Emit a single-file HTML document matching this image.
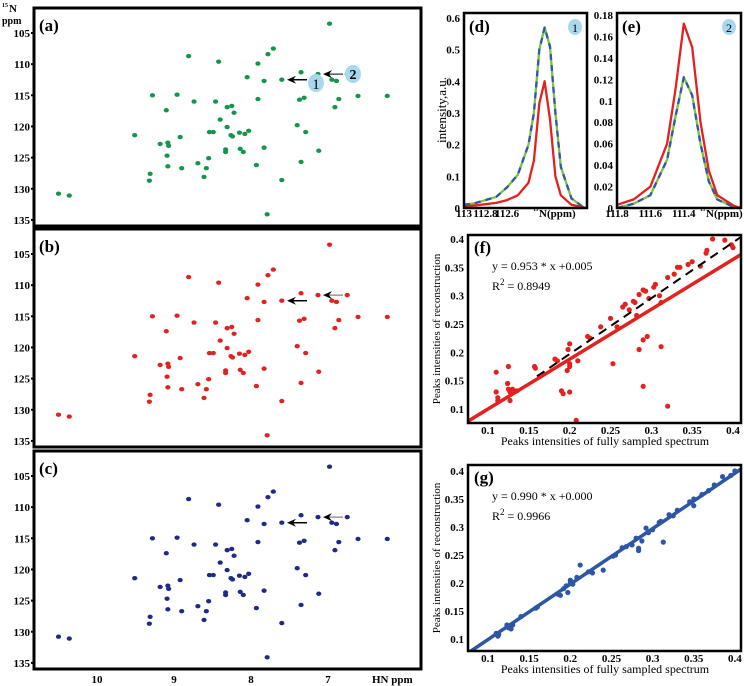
<!DOCTYPE html>
<html><head><meta charset="utf-8">
<style>
html,body{margin:0;padding:0;background:#fff;}
svg{display:block;font-family:"Liberation Serif",serif;}
.tk{font-weight:bold;font-size:11px;}
.pl{font-weight:bold;font-size:17px;}
</style></head>
<body>
<svg id="fig" width="744" height="686" viewBox="0 0 744 686" xmlns="http://www.w3.org/2000/svg"></svg>
<script>
// ---- data: peaks of 2D HSQC spectrum (HN ppm, 15N ppm) ----
const peakHN = [6.98,7.71,7.78,8.81,8.42,7.91,7.35,7.13,6.75,8.05,7.83,7.60,6.95,6.89,9.28,8.96,6.61,6.23,8.74,8.46,7.91,7.37,7.31,6.86,6.91,9.10,8.31,8.25,8.22,8.40,8.31,7.40,9.51,8.54,8.49,8.15,8.08,8.03,8.26,8.24,8.92,7.29,9.18,9.08,9.07,8.33,8.33,8.14,8.10,7.83,7.12,9.09,8.55,9.08,8.69,7.93,7.35,8.90,8.58,9.31,8.61,9.32,7.60,10.50,10.36,7.79];
const peakN  = [103.5,107.5,108.4,108.7,109.6,109.9,111.3,111.6,111.6,112.1,112.7,112.5,112.5,112.7,115.0,114.9,115.1,115.1,116.0,116.0,115.6,115.7,115.4,115.6,116.9,117.4,116.9,116.7,117.8,118.9,120.1,119.8,121.4,120.9,120.9,121.0,121.2,120.7,121.4,121.6,121.7,120.9,122.8,122.6,123.1,123.7,124.1,123.6,124.1,123.4,123.9,124.7,125.1,126.4,125.9,126.2,125.7,126.7,126.7,127.6,128.1,128.7,128.6,130.8,131.1,134.1];
const nTicks = [105,110,115,120,125,130,135];
const hnTicks = [10,9,8,7];
// ---- (d) 1D slice of peak 1 ----
const dPPM   = [113,112.9,112.8,112.7,112.6,112.5,112.4,112.35,112.3,112.25,112.2,112.15,112.1,112.0,111.9,111.875];
const dFull  = [0.01,0.015,0.025,0.035,0.065,0.105,0.2,0.3,0.5,0.57,0.51,0.3,0.13,0.03,0.005,0];
const dRecon = [0.005,0.008,0.012,0.016,0.025,0.04,0.08,0.15,0.33,0.40,0.28,0.1,0.04,0.01,0.003,0];
const dYTicks = [0,0.1,0.2,0.3,0.4,0.5,0.6];
const dXTicks = [113,112.8,112.6];
// ---- (e) 1D slice of peak 2 ----
const ePPM   = [111.8,111.7,111.6,111.5,111.45,111.4,111.35,111.3,111.25,111.2,111.1,111.06];
const eRecon = [0.003,0.008,0.02,0.06,0.11,0.172,0.15,0.08,0.035,0.012,0.002,0];
const eFull  = [0,0.004,0.012,0.045,0.085,0.122,0.105,0.06,0.025,0.008,0.001,0];
const eYTicks = [0,0.02,0.04,0.06,0.08,0.1,0.12,0.14,0.16,0.18];
const eXTicks = [111.8,111.6,111.4];
// ---- (f) correlation, red ----
const fX = [0.11,0.11,0.112,0.112,0.125,0.124,0.125,0.127,0.13,0.127,0.135,0.157,0.158,0.182,0.185,0.19,0.192,0.197,0.198,0.2,0.2,0.2,0.2,0.21,0.208,0.222,0.225,0.238,0.25,0.253,0.258,0.265,0.268,0.273,0.278,0.28,0.282,0.285,0.285,0.29,0.29,0.293,0.295,0.29,0.297,0.305,0.303,0.31,0.312,0.312,0.32,0.32,0.328,0.332,0.335,0.345,0.35,0.36,0.367,0.368,0.375,0.39,0.398,0.4];
const fY = [0.165,0.13,0.12,0.115,0.175,0.145,0.135,0.13,0.135,0.115,0.132,0.175,0.172,0.188,0.185,0.132,0.127,0.168,0.205,0.215,0.18,0.175,0.13,0.185,0.08,0.228,0.225,0.245,0.26,0.18,0.245,0.28,0.285,0.275,0.29,0.288,0.265,0.302,0.205,0.222,0.31,0.308,0.228,0.14,0.295,0.32,0.315,0.3,0.288,0.21,0.332,0.105,0.338,0.35,0.35,0.355,0.36,0.352,0.375,0.38,0.4,0.398,0.39,0.385];
const fFit = [0.88,0.012];   // drawn solid fit slope, intercept
const fRef = [0.985,0.0];    // dashed reference
// ---- (g) correlation, blue ----
const gX = [0.11,0.112,0.113,0.123,0.125,0.128,0.13,0.14,0.158,0.16,0.185,0.188,0.192,0.195,0.197,0.2,0.2,0.203,0.208,0.212,0.222,0.227,0.24,0.252,0.255,0.263,0.268,0.275,0.28,0.283,0.283,0.287,0.292,0.295,0.3,0.308,0.31,0.313,0.32,0.325,0.33,0.345,0.35,0.35,0.36,0.368,0.375,0.385,0.395,0.4];
const gY = [0.11,0.105,0.108,0.125,0.12,0.118,0.125,0.14,0.155,0.157,0.18,0.178,0.19,0.195,0.183,0.2,0.205,0.198,0.21,0.232,0.22,0.218,0.223,0.248,0.25,0.263,0.265,0.268,0.28,0.262,0.258,0.275,0.298,0.29,0.295,0.308,0.31,0.273,0.322,0.32,0.33,0.345,0.35,0.338,0.358,0.365,0.375,0.39,0.392,0.4];
const gFit = [0.99,0.0];
const corrTicks = [0.1,0.15,0.2,0.25,0.3,0.35,0.4];

const NS = "http://www.w3.org/2000/svg";
const svg = document.getElementById('fig');
function mk(tag, attrs, parent, name, txt){
  const e = document.createElementNS(NS, tag);
  for (const k in attrs) e.setAttribute(k, attrs[k]);
  
  
  if (txt !== undefined) e.textContent = txt;
  (parent || svg).appendChild(e);
  return e;
}

// ---------- 2D spectra (a),(b),(c) ----------
const sx = hn => 97 + (10 - hn) * 77;
const panels = [
  {off:0, col:'#13964a', lab:'(a)', name:'panel-a'},
  {off:221, col:'#e3211f', lab:'(b)', name:'panel-b'},
  {off:443, col:'#1f2a86', lab:'(c)', name:'panel-c'}
];
panels.forEach((p, pi) => {
  const sy = n => 33 + p.off + (n - 105) * 6.23;
  const g = mk('g', {}, svg, p.name);
  mk('rect', {x:34, y:8 + p.off, width:387, height:218, fill:'#fff', stroke:'#000', 'stroke-width':3}, g, 'plot-frame');
  mk('text', {x:39, y:31 + p.off, class:'pl'}, g, 'panel-label', p.lab);
  nTicks.forEach(t => {
    mk('text', {x:30, y:sy(t) + 4, class:'tk', 'text-anchor':'end'}, g, 'y-tick-label', String(t));
    mk('rect', {x:31, y:sy(t) - 1, width:2, height:2, fill:'#000'}, g, 'y-tick');
  });
  for (let i = 0; i < peakHN.length; i++) {
    mk('ellipse', {cx:sx(peakHN[i]), cy:sy(peakN[i]), rx:2.6, ry:2.2, fill:p.col}, g, 'peak');
  }
  // arrows to peaks 1 and 2
  const a1y = sy(112.5), a2y = sy(111.6);
  mk('line', {x1:307, y1:a1y, x2:292, y2:a1y, stroke:'#000', 'stroke-width':1.5}, g, 'arrow-1');
  mk('path', {d:`M287 ${a1y} L296 ${a1y-4} L293 ${a1y} L296 ${a1y+4} Z`, fill:'#000'}, g, 'arrow-1-head');
  mk('line', {x1:343, y1:a2y, x2:328, y2:a2y, stroke:pi===0?'#000':'#666', 'stroke-width':1}, g, 'arrow-2');
  mk('path', {d:`M323 ${a2y} L332 ${a2y-4} L329 ${a2y} L332 ${a2y+4} Z`, fill:'#000'}, g, 'arrow-2-head');
  if (pi === 0) {
    mk('ellipse', {cx:316, cy:83, rx:8, ry:9, fill:'#a8d8ee'}, g, 'marker-1');
    mk('text', {x:316, y:89, 'font-size':15, 'text-anchor':'middle'}, g, 'marker-1-label', '1');
    mk('ellipse', {cx:353, cy:74, rx:8, ry:9, fill:'#a8d8ee'}, g, 'marker-2');
    mk('text', {x:353, y:79, 'font-size':14, 'font-weight':'bold', 'text-anchor':'middle'}, g, 'marker-2-label', '2');
  }
  if (pi === 2) {
    hnTicks.forEach(t => mk('text', {x:sx(t), y:683, class:'tk', 'text-anchor':'middle'}, g, 'x-tick-label', String(t)));
    mk('text', {x:372, y:683, class:'tk', 'font-size':12}, g, 'x-axis-title', 'HN  ppm');
  }
});
mk('text', {x:2, y:7, 'font-size':6, 'font-weight':'bold'}, svg, 'y-axis-isotope', '15');
mk('text', {x:9, y:12, 'font-size':11, 'font-weight':'bold'}, svg, 'y-axis-title', 'N');
mk('text', {x:2, y:24, 'font-size':10, 'font-weight':'bold'}, svg, 'y-axis-unit', 'ppm');

// ---------- 1D slices (d),(e) ----------
function slicePanel(cfg){
  const g = mk('g', {}, svg, cfg.name);
  const X = v => cfg.x0 + (cfg.p0 - v) * cfg.kx;
  const Y = v => 208 - v * cfg.ky;
  mk('rect', {x:cfg.x0, y:13, width:cfg.w, height:195, fill:'#fff'}, g, 'plot-bg');
  const path = (xs, ys) => xs.map((v,i)=>(i?'L':'M')+X(v).toFixed(1)+' '+Y(ys[i]).toFixed(1)).join(' ');
  cfg.series.forEach(s => {
    mk('path', {d:path(cfg.px, s.v), fill:'none', stroke:s.c, 'stroke-width':2.3, 'stroke-dasharray':s.dash||'none', 'stroke-linejoin':'round'}, g, s.name);
  });
  mk('rect', {x:cfg.x0, y:13, width:cfg.w, height:195, fill:'none', stroke:'#000', 'stroke-width':2.5}, g, 'plot-frame');
  cfg.yt.forEach(t => mk('text', {x:cfg.x0 - 4, y:Y(t) + 4, class:'tk', 'font-size':10, 'text-anchor':'end'}, g, 'y-tick-label', String(t)));
  cfg.xt.forEach(t => mk('text', {x:X(t), y:217, class:'tk', 'font-size':9, 'text-anchor':'middle'}, g, 'x-tick-label', String(t)));
  mk('text', {x:cfg.xl, y:217, class:'tk', 'font-size':10}, g, 'x-axis-title', 'ᴺ(ppm)'.replace('ᴺ','N'));
  mk('text', {x:cfg.xl - 6, y:211, 'font-size':5, 'font-weight':'bold'}, g, 'x-axis-isotope', '15');
  mk('text', {x:cfg.x0 + 5, y:32, class:'pl'}, g, 'panel-label', cfg.lab);
  mk('ellipse', {cx:cfg.x0 + cfg.w - 12, cy:27, rx:7, ry:8, fill:'#a8d8ee'}, g, 'marker');
  mk('text', {x:cfg.x0 + cfg.w - 12, y:32, 'font-size':12, 'text-anchor':'middle'}, g, 'marker-label', cfg.mk);
}
slicePanel({name:'panel-d', lab:'(d)', mk:'1', x0:464, w:123, p0:113, kx:107.5, ky:190/0.6, px:dPPM,
  series:[{name:'line-full-green', c:'#7fc241', v:dFull},{name:'line-full-blue-dashed', c:'#2c5aa8', v:dFull, dash:'6 5'},{name:'line-recon-red', c:'#e3211f', v:dRecon}],
  yt:dYTicks, xt:dXTicks, xl:539});
slicePanel({name:'panel-e', lab:'(e)', mk:'2', x0:617, w:124, p0:111.8, kx:167, ky:193/0.18, px:ePPM,
  series:[{name:'line-full-green', c:'#7fc241', v:eFull},{name:'line-full-blue-dashed', c:'#2c5aa8', v:eFull, dash:'6 5'},{name:'line-recon-red', c:'#e3211f', v:eRecon}],
  yt:eYTicks, xt:eXTicks, xl:706});
mk('text', {x:0, y:0, 'font-size':13, transform:'translate(446,110) rotate(-90)', 'text-anchor':'middle'}, svg, 'y-axis-title-intensity', 'intensity,a.u.');

// ---------- correlation (f),(g) ----------
function corrPanel(cfg){
  const g = mk('g', {}, svg, cfg.name);
  const X = v => 488 + (v - 0.1) * cfg.kx;
  const Y = v => cfg.y04 + (0.4 - v) * cfg.ky;
  const x0 = 468, x1 = 741, y0 = cfg.top, y1 = cfg.bot;
  const vMin = 0.1 - 20 / cfg.kx, vMax = 0.1 + (x1 - 488) / cfg.kx;
  mk('rect', {x:x0, y:y0, width:x1 - x0, height:y1 - y0, fill:'#fff'}, g, 'plot-bg');
  const clip = mk('clipPath', {id:cfg.name + '-clip'}, g, 'clip');
  mk('rect', {x:x0, y:y0, width:x1 - x0, height:y1 - y0}, clip, 'clip-rect');
  const pg = mk('g', {'clip-path':`url(#${cfg.name}-clip)`}, g, 'plot-area');
  for (let i = 0; i < cfg.xs.length; i++) {
    mk('circle', {cx:X(cfg.xs[i]), cy:Y(cfg.ys[i]), r:2.6, fill:cfg.col}, pg, 'data-point');
  }
  if (cfg.ref) {
    const a = 0.16, b = vMax;
    mk('line', {x1:X(a), y1:Y(cfg.ref[0]*a + cfg.ref[1]), x2:X(b), y2:Y(cfg.ref[0]*b + cfg.ref[1]), stroke:'#000', 'stroke-width':2, 'stroke-dasharray':'9 6'}, pg, 'reference-line');
  }
  mk('line', {x1:X(vMin), y1:Y(cfg.fit[0]*vMin + cfg.fit[1]), x2:X(vMax), y2:Y(cfg.fit[0]*vMax + cfg.fit[1]), stroke:cfg.col, 'stroke-width':3.5}, pg, 'fit-line');
  mk('rect', {x:x0, y:y0, width:x1 - x0, height:y1 - y0, fill:'none', stroke:'#000', 'stroke-width':2.5}, g, 'plot-frame');
  corrTicks.forEach(t => {
    mk('text', {x:464, y:Y(t) + 4, class:'tk', 'font-size':10, 'text-anchor':'end'}, g, 'y-tick-label', String(t));
    mk('text', {x:X(t), y:y1 + 11, class:'tk', 'font-size':10, 'text-anchor':'middle'}, g, 'x-tick-label', String(t));
  });
  mk('text', {x:474, y:y0 + 18, class:'pl'}, g, 'panel-label', cfg.lab);
  mk('text', {x:492, y:y0 + 35, 'font-size':12}, g, 'equation', cfg.eq);
  const r = mk('text', {x:492, y:y0 + 55, 'font-size':12}, g, 'r-squared', 'R');
  const sup = document.createElementNS(NS, 'tspan');
  sup.setAttribute('dy', '-5'); sup.setAttribute('font-size', '9'); sup.textContent = '2';
  
  
  r.appendChild(sup);
  const rest = document.createElementNS(NS, 'tspan');
  rest.setAttribute('dy', '5'); rest.textContent = ' = ' + cfg.r2;
  
  
  r.appendChild(rest);
  mk('text', {x:605, y:y1 + 22, 'font-size':12, 'text-anchor':'middle'}, g, 'x-axis-title', 'Peaks intensities of fully sampled spectrum');
  mk('text', {x:0, y:0, 'font-size':11, transform:`translate(440,${(y0 + y1) / 2}) rotate(-90)`, 'text-anchor':'middle'}, g, 'y-axis-title', 'Peaks intensities of reconstruction');
}
corrPanel({name:'panel-f', lab:'(f)', col:'#e3211f', xs:fX, ys:fY, fit:fFit, ref:fRef, kx:816.7, ky:566.7, y04:239, top:235, bot:423,
  eq:'y = 0.953 * x +0.005', r2:'0.8949'});
corrPanel({name:'panel-g', lab:'(g)', col:'#2d56a4', xs:gX, ys:gY, fit:gFit, ref:null, kx:823, ky:560, y04:471, top:465, bot:651,
  eq:'y = 0.990 * x +0.000', r2:'0.9966'});
</script>
</body></html>
